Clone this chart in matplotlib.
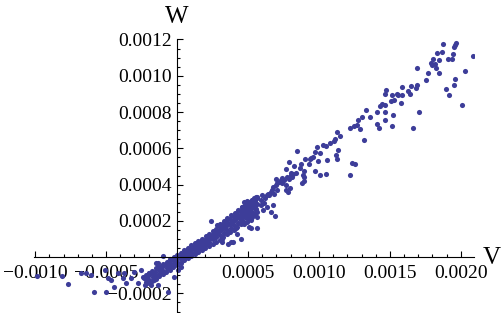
import matplotlib
matplotlib.use("Agg")
import matplotlib.pyplot as plt
from matplotlib.ticker import MultipleLocator, FuncFormatter
import numpy as np

# all values in units of 1e-4
scale = 1e-4

# dense band around the origin
band_pts = [
    (-2.25, -1.55), (-2.2, -1.35), (-2.3, -1.15), (-2.22, -1.0),
    (-2.0, -1.45), (-1.96, -1.25), (-2.05, -1.05), (-1.98, -0.9),
    (-1.75, -1.32), (-1.72, -1.12), (-1.78, -0.95), (-1.74, -0.75),
    (-1.5, -1.2), (-1.46, -1.0), (-1.53, -0.8), (-1.48, -0.62),
    (-1.25, -1.05), (-1.22, -0.88), (-1.28, -0.7), (-1.24, -0.5),
    (-1.0, -0.95), (-0.97, -0.75), (-1.03, -0.55), (-0.99, -0.38),
    (-0.75, -0.82), (-0.72, -0.62), (-0.78, -0.42), (-0.74, -0.25),
    (-0.5, -0.7), (-0.47, -0.5), (-0.53, -0.3), (-0.49, -0.12),
    (-0.25, -0.55), (-0.22, -0.38), (-0.28, -0.18), (-0.24, 0.0),
    (0.0, -0.42), (0.03, -0.25), (-0.03, -0.05), (0.01, 0.12),
    (0.25, -0.3), (0.28, -0.12), (0.22, 0.08), (0.26, 0.25),
    (0.5, -0.18), (0.53, 0.0), (0.47, 0.2), (0.51, 0.38),
    (0.75, -0.06), (0.78, 0.12), (0.72, 0.32), (0.76, 0.5),
    (1.0, 0.05), (1.03, 0.25), (0.97, 0.45), (1.01, 0.65),
    (1.25, 0.15), (1.28, 0.38), (1.22, 0.58), (1.26, 0.78),
    (1.5, 0.28), (1.53, 0.5), (1.47, 0.7), (1.51, 0.9),
    (1.75, 0.4), (1.78, 0.62), (1.72, 0.82), (1.76, 1.02),
    (2.0, 0.5), (2.03, 0.72), (1.97, 0.95), (2.01, 1.15),
    (2.25, 0.62), (2.28, 0.85), (2.22, 1.08), (2.26, 1.3),
    (2.5, 0.72), (2.53, 0.98), (2.47, 1.2), (2.51, 1.42),
    (2.75, 0.85), (2.78, 1.1), (2.72, 1.32), (2.76, 1.55), (2.8, 1.75),
    (3.0, 0.95), (3.03, 1.2), (2.97, 1.42), (3.01, 1.65), (3.05, 1.85),
    (3.25, 1.1), (3.28, 1.35), (3.22, 1.58), (3.26, 1.8), (3.3, 2.0),
    (3.5, 1.25), (3.53, 1.5), (3.47, 1.72), (3.51, 1.95), (3.55, 2.15),
    (3.75, 1.4), (3.78, 1.62), (3.72, 1.85), (3.76, 2.08), (3.8, 2.3),
    (4.0, 1.52), (4.03, 1.78), (3.97, 2.0), (4.01, 2.22), (4.05, 2.45),
    (4.25, 1.65), (4.28, 1.9), (4.22, 2.15), (4.26, 2.38), (4.3, 2.6),
    (4.5, 1.8), (4.53, 2.05), (4.47, 2.28), (4.51, 2.52), (4.55, 2.75),
    (4.75, 1.95), (4.78, 2.2), (4.72, 2.42), (4.76, 2.65), (4.8, 2.88),
    (5.0, 2.1), (5.03, 2.32), (4.97, 2.56), (5.01, 2.8), (5.05, 3.02),
    (5.25, 2.22), (5.28, 2.48), (5.22, 2.7), (5.26, 2.95), (5.3, 3.15),
    (5.5, 2.38), (5.53, 2.6), (5.47, 2.84), (5.51, 3.08), (5.55, 3.3),
    # filling between the columns
    (-2.1, -1.2), (-1.6, -0.95), (-1.1, -0.68), (-0.6, -0.45), (-0.12, -0.2),
    (0.38, 0.05), (0.88, 0.3), (1.38, 0.55), (1.88, 0.8), (2.38, 1.05),
    (2.88, 1.35), (3.38, 1.62), (3.88, 1.9), (4.38, 2.2), (4.88, 2.45),
    (5.38, 2.75), (0.62, 0.3), (1.12, 0.55), (1.62, 0.8), (2.12, 1.0),
    (2.62, 1.2), (3.12, 1.5), (3.62, 1.8), (4.12, 2.05), (4.62, 2.35),
    (5.12, 2.6), (5.42, 2.95), (3.15, 1.0), (4.15, 1.62), (5.15, 2.25),
]

# scattered points left of / below the origin
left_pts = [
    (-9.89, -1.05), (-8.14, -1.05), (-7.65, -1.49), (-6.74, -0.88), (-6.39, -0.88),
    (-6.04, -0.99), (-5.82, -1.93), (-4.98, -1.93), (-4.84, -1.16), (-4.63, -1.27),
    (-4.42, -1.65), (-4.14, -0.88), (-3.79, -1.16), (-3.72, -0.88), (-3.58, -1.43),
    (-3.23, -1.16), (-3.02, -0.83), (-2.74, -1.43), (-2.53, -0.72), (-2.39, -1.10),
    (-2.18, -1.16), (-1.96, -0.88), (-1.82, -1.54), (-1.61, -1.27), (-1.33, -1.54),
    (-0.98, 0.06), (-0.63, -1.93), (-1.35, -0.35), (-0.65, -0.53), (-0.19, -1.08),
    (0.28, -0.53), (0.05, -0.72), (-1.47, -0.35), (-5.1, -0.72),
]

# middle part of the cloud
mid_pts = [
    (11.28, 6.90), (11.51, 6.68), (11.16, 6.53), (11.04, 6.38), (10.76, 6.31),
    (11.32, 5.91), (11.23, 5.65), (11.28, 5.39), (10.29, 6.16), (10.53, 6.13),
    (9.87, 6.07), (9.75, 5.80), (10.06, 5.76), (9.59, 5.52), (9.36, 5.43),
    (9.45, 5.47), (10.57, 5.34), (9.94, 5.28), (8.47, 5.83), (9.05, 5.39),
    (9.28, 5.16), (8.75, 5.16), (8.65, 4.92), (7.88, 5.25), (8.23, 5.03),
    (12.33, 5.21), (12.56, 5.14), (12.21, 4.55), (9.75, 4.73), (10.11, 4.55),
    (10.48, 4.58), (7.67, 4.84), (8.0, 4.66), (8.19, 4.60), (8.35, 4.66),
    (8.93, 4.73), (8.89, 4.51), (8.98, 4.40), (8.82, 4.06), (8.93, 4.18),
    (8.0, 4.51), (7.88, 4.33), (7.77, 4.42), (8.12, 4.42), (7.42, 4.36),
    (7.53, 4.24), (7.30, 4.24), (7.18, 4.14), (6.95, 4.33), (6.95, 3.96),
    (7.07, 4.06), (7.42, 4.06), (7.65, 3.96), (7.95, 3.81), (7.65, 3.69),
    (7.84, 3.59), (6.78, 3.87), (6.71, 3.69), (6.60, 3.59), (6.41, 3.50),
    (6.32, 3.41), (6.51, 3.41), (6.83, 3.50), (7.07, 3.69), (5.89, 3.14),
    (5.66, 3.26), (5.42, 3.26), (5.31, 3.14), (6.36, 2.77), (6.78, 2.86),
    (6.60, 2.49), (6.90, 2.26), (5.66, 2.95), (5.54, 2.68), (5.66, 2.49),
    (5.61, 2.22), (4.73, 3.04), (4.96, 3.08), (5.08, 2.95), (4.84, 2.86),
    (4.61, 2.77), (5.19, 2.82), (4.96, 2.68), (4.73, 2.59), (4.49, 2.49),
    (5.08, 2.49), (5.31, 2.31), (4.84, 2.31), (4.61, 2.13), (5.19, 2.04),
    (4.96, 1.94), (4.73, 1.85), (2.39, 1.98), (4.26, 1.25), (4.49, 0.99),
    (3.79, 0.84), (3.56, 0.70), (5.19, 1.58), (5.19, 2.13), (5.07, 1.67),
    (3.91, 0.84), (3.2, 0.84), (5.66, 3.32), (6.01, 3.41), (5.66, 1.58),
    (13.21, 6.48), (6.1, 3.0), (6.2, 3.25), (5.95, 2.85), (6.05, 2.6),
]

# upper right tail
upper_pts = [
    (19.65, 11.83), (19.53, 11.61), (19.58, 11.72), (18.76, 11.76), (18.29, 11.26),
    (18.64, 11.32), (19.46, 11.21), (20.87, 11.06), (19.11, 10.93), (19.35, 10.93),
    (18.06, 10.93), (18.48, 10.88), (17.87, 10.69), (18.18, 10.66), (18.0, 10.6),
    (16.94, 10.44), (18.25, 10.44), (17.71, 10.17), (18.48, 10.17), (20.30, 10.28),
    (17.57, 9.78), (19.60, 9.83), (19.53, 9.50), (18.97, 9.28), (19.18, 8.95),
    (20.09, 8.40), (16.94, 9.50), (16.87, 9.34), (16.49, 9.45), (15.88, 9.39),
    (16.30, 9.15), (16.44, 9.01), (14.76, 9.23), (14.69, 9.01), (15.18, 8.95),
    (15.53, 9.01), (15.58, 8.95), (15.88, 8.95), (15.32, 8.68), (15.11, 8.60),
    (15.81, 8.51), (14.41, 8.46), (14.32, 8.35), (14.69, 8.40), (17.08, 8.02),
    (13.29, 8.13), (14.06, 8.02), (14.69, 8.02), (15.25, 7.85), (13.01, 7.72),
    (13.57, 7.72), (12.72, 7.58), (14.62, 7.58), (14.06, 7.36), (14.20, 7.14),
    (15.18, 7.25), (16.65, 7.14), (12.44, 7.25), (12.21, 7.14), (12.86, 7.08),
    (12.68, 7.26),
]

pts = np.array(band_pts + left_pts + mid_pts + upper_pts) * scale
v, w = pts[:, 0], pts[:, 1]

plt.rcParams['font.family'] = ['Liberation Serif', 'DejaVu Serif']

fig = plt.figure(figsize=(5.04, 3.13), dpi=100)
ax = fig.add_axes([0.068, 0.004, 0.872, 0.870])

ax.plot(v, w, 'o', color='#3d3d99', markersize=3.7, markeredgewidth=0, zorder=2)

ax.set_xlim(-0.001006, 0.002091)
ax.set_ylim(-0.000301, 0.0012)

# mathematica-style axes through the origin
for side in ['top', 'right']:
    ax.spines[side].set_visible(False)
for side in ['left', 'bottom']:
    ax.spines[side].set_position(('data', 0))
    ax.spines[side].set_linewidth(0.8)

ax.xaxis.set_major_locator(MultipleLocator(0.0005))
ax.xaxis.set_minor_locator(MultipleLocator(0.0001))
ax.yaxis.set_major_locator(MultipleLocator(0.0002))
ax.yaxis.set_minor_locator(MultipleLocator(0.00005))

def fmt(x, pos):
    if abs(x) < 1e-12:
        return ''
    return f'{x:.4f}'.replace('-', '\u2212')

ax.xaxis.set_major_formatter(FuncFormatter(fmt))
ax.yaxis.set_major_formatter(FuncFormatter(fmt))

ax.tick_params(which='both', direction='in', width=0.8, labelsize=14)
ax.tick_params(which='major', length=4.5)
ax.tick_params(which='minor', length=2.5)
ax.tick_params(axis='x', which='major', pad=6)
ax.tick_params(axis='y', which='major', pad=3.8)

ax.annotate('W', xy=(0, 1), xycoords=('data', 'axes fraction'),
            xytext=(0, 11.5), textcoords='offset points',
            ha='center', va='baseline', fontsize=18)
ax.annotate('V', xy=(1, 0), xycoords=('axes fraction', 'data'),
            xytext=(6.5, -5), textcoords='offset points',
            ha='left', va='baseline', fontsize=18)

fig.savefig('out.png', dpi=100)
